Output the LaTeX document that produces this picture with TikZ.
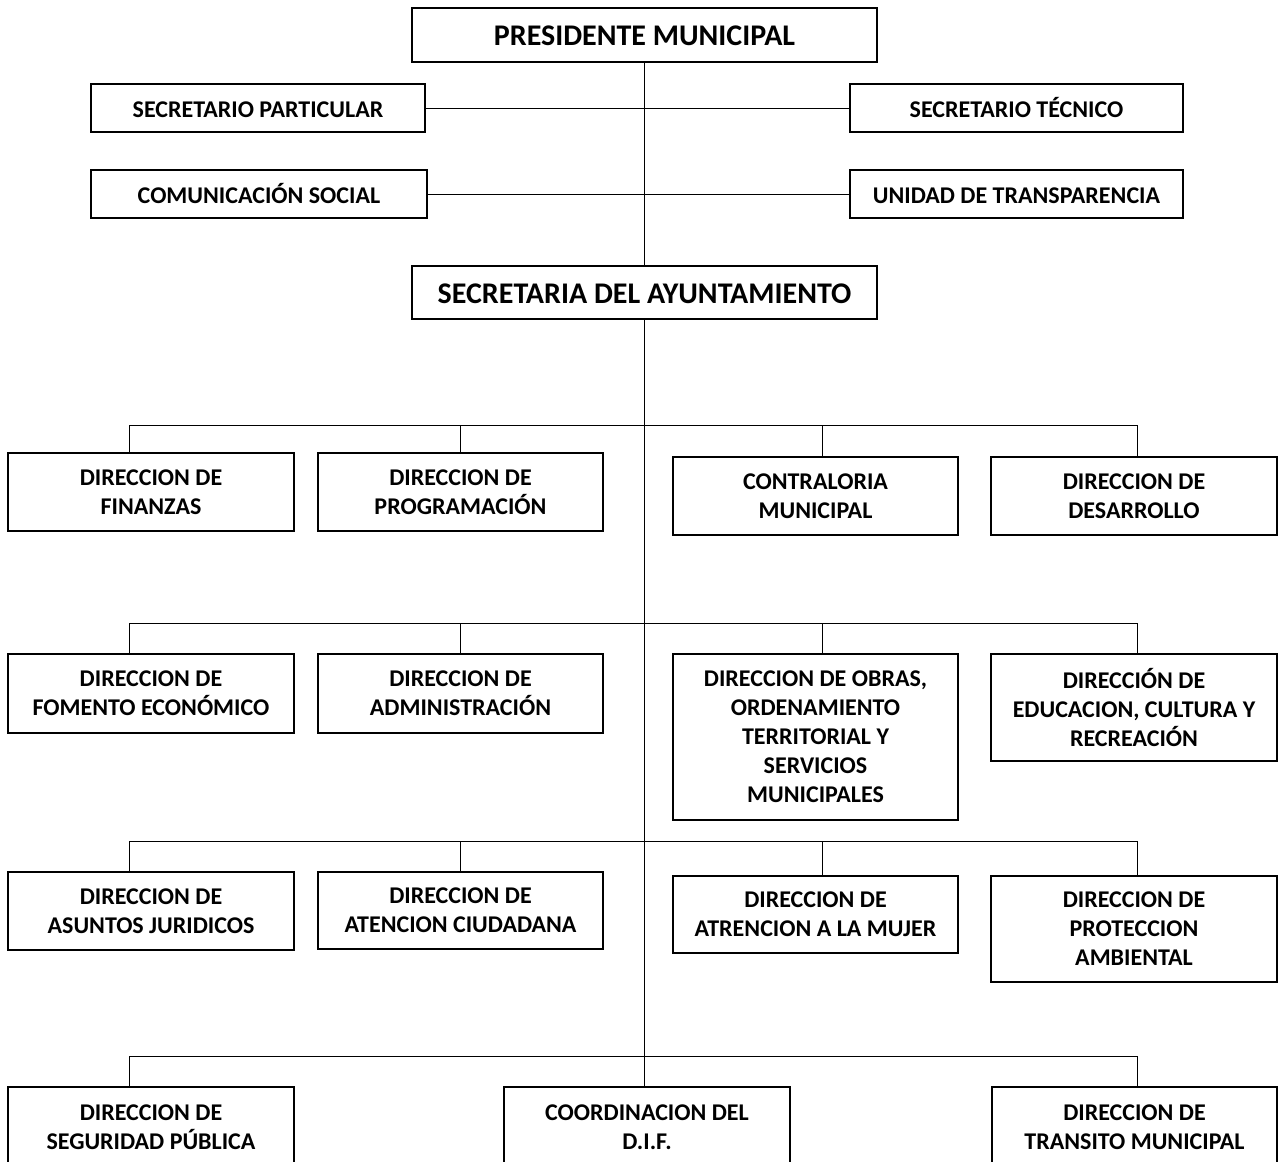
\documentclass[tikz,border=0pt]{standalone}
\usepackage{fontspec}
\setmainfont{Carlito}
\begin{document}
\begin{tikzpicture}[x=1pt,y=-1pt,
  box/.style={draw=black, line width=1.5pt, align=center, inner sep=0pt,
    font=\bfseries\fontsize{24}{29}\selectfont},
  oneline/.style={text height=18.5pt, text depth=0pt},
  topbox/.style={box, font=\bfseries\fontsize{30}{35}\selectfont, text height=21pt, text depth=0pt},
  conn/.style={draw=black, line width=1pt}]
\useasboundingbox (0,0) rectangle (1278,1162);
\clip (0,0) rectangle (1278,1162);
% top level
\node[topbox, minimum width=465pt, minimum height=54pt] (pres) at (644.5,35) {PRESIDENTE MUNICIPAL};
\node[box, oneline, minimum width=334pt, minimum height=48pt] (spart) at (258,108) {SECRETARIO PARTICULAR};
\node[box, oneline, minimum width=333pt, minimum height=48pt] (stec) at (1016.5,108) {SECRETARIO TÉCNICO};
\node[box, oneline, minimum width=336pt, minimum height=48pt] (com) at (259,194) {COMUNICACIÓN SOCIAL};
\node[box, oneline, minimum width=333pt, minimum height=48pt] (unid) at (1016.5,194) {UNIDAD DE TRANSPARENCIA};
\node[topbox, minimum width=465pt, minimum height=53pt] (secay) at (644.5,292.5) {SECRETARIA DEL AYUNTAMIENTO};
% row 1
\node[box, minimum width=286pt, minimum height=78pt] (fin) at (151,492) {DIRECCION DE\\FINANZAS};
\node[box, minimum width=285pt, minimum height=78pt] (prog) at (460.5,492) {DIRECCION DE\\PROGRAMACIÓN};
\node[box, minimum width=285pt, minimum height=78pt] (contr) at (815.5,496) {CONTRALORIA\\MUNICIPAL};
\node[box, minimum width=286pt, minimum height=78pt] (desa) at (1134,496) {DIRECCION DE\\DESARROLLO};
% row 2
\node[box, minimum width=286pt, minimum height=79pt] (fom) at (151,693.5) {DIRECCION DE\\FOMENTO ECONÓMICO};
\node[box, minimum width=285pt, minimum height=79pt] (adm) at (460.5,693.5) {DIRECCION DE\\ADMINISTRACIÓN};
\node[box, minimum width=285pt, minimum height=166pt] (obras) at (815.5,737) {DIRECCION DE OBRAS,\\ORDENAMIENTO\\TERRITORIAL Y\\SERVICIOS\\MUNICIPALES};
\node[box, minimum width=286pt, minimum height=107pt] (educ) at (1134,707.5) {DIRECCIÓN DE\\EDUCACION, CULTURA Y\\RECREACIÓN};
% row 3
\node[box, minimum width=286pt, minimum height=78pt] (asun) at (151,911) {DIRECCION DE\\ASUNTOS JURIDICOS};
\node[box, minimum width=285pt, minimum height=77pt] (aten) at (460.5,910.5) {DIRECCION DE\\ATENCION CIUDADANA};
\node[box, minimum width=285pt, minimum height=77pt] (mujer) at (815.5,914.5) {DIRECCION DE\\ATRENCION A LA MUJER};
\node[box, minimum width=286pt, minimum height=106pt] (prot) at (1134,929) {DIRECCION DE\\PROTECCION\\AMBIENTAL};
% row 4
\node[box, minimum width=286pt, minimum height=80pt] (seg) at (151,1127) {DIRECCION DE\\SEGURIDAD PÚBLICA};
\node[box, minimum width=286pt, minimum height=80pt] (coord) at (647,1127) {COORDINACION DEL\\D.I.F.};
\node[box, minimum width=285pt, minimum height=80pt] (trans) at (1134.5,1127) {DIRECCION DE\\TRANSITO MUNICIPAL};
% bus coordinates
\coordinate (b1a) at (129,425); \coordinate (b1b) at (460,425); \coordinate (b1c) at (822,425); \coordinate (b1d) at (1137,425);
\coordinate (b2a) at (129,623); \coordinate (b2b) at (460,623); \coordinate (b2c) at (822,623); \coordinate (b2d) at (1137,623);
\coordinate (b3a) at (129,841); \coordinate (b3b) at (460,841); \coordinate (b3c) at (822,841); \coordinate (b3d) at (1137,841);
\coordinate (b4a) at (129,1056); \coordinate (b4d) at (1137,1056);
% connectors
\draw[conn] (pres.south) -- (secay.north);
\draw[conn] (spart.east) -- (stec.west);
\draw[conn] (com.east) -- (unid.west);
\draw[conn] (secay.south) -- (secay.south |- coord.north);
\draw[conn] (b1a) -- (b1d);
\draw[conn] (b2a) -- (b2d);
\draw[conn] (b3a) -- (b3d);
\draw[conn] (b4a) -- (b4d);
\draw[conn] (b1a) -- (b1a |- fin.north);
\draw[conn] (b1b) -- (b1b |- prog.north);
\draw[conn] (b1c) -- (b1c |- contr.north);
\draw[conn] (b1d) -- (b1d |- desa.north);
\draw[conn] (b2a) -- (b2a |- fom.north);
\draw[conn] (b2b) -- (b2b |- adm.north);
\draw[conn] (b2c) -- (b2c |- obras.north);
\draw[conn] (b2d) -- (b2d |- educ.north);
\draw[conn] (b3a) -- (b3a |- asun.north);
\draw[conn] (b3b) -- (b3b |- aten.north);
\draw[conn] (b3c) -- (b3c |- mujer.north);
\draw[conn] (b3d) -- (b3d |- prot.north);
\draw[conn] (b4a) -- (b4a |- seg.north);
\draw[conn] (b4d) -- (b4d |- trans.north);
\end{tikzpicture}
\end{document}
